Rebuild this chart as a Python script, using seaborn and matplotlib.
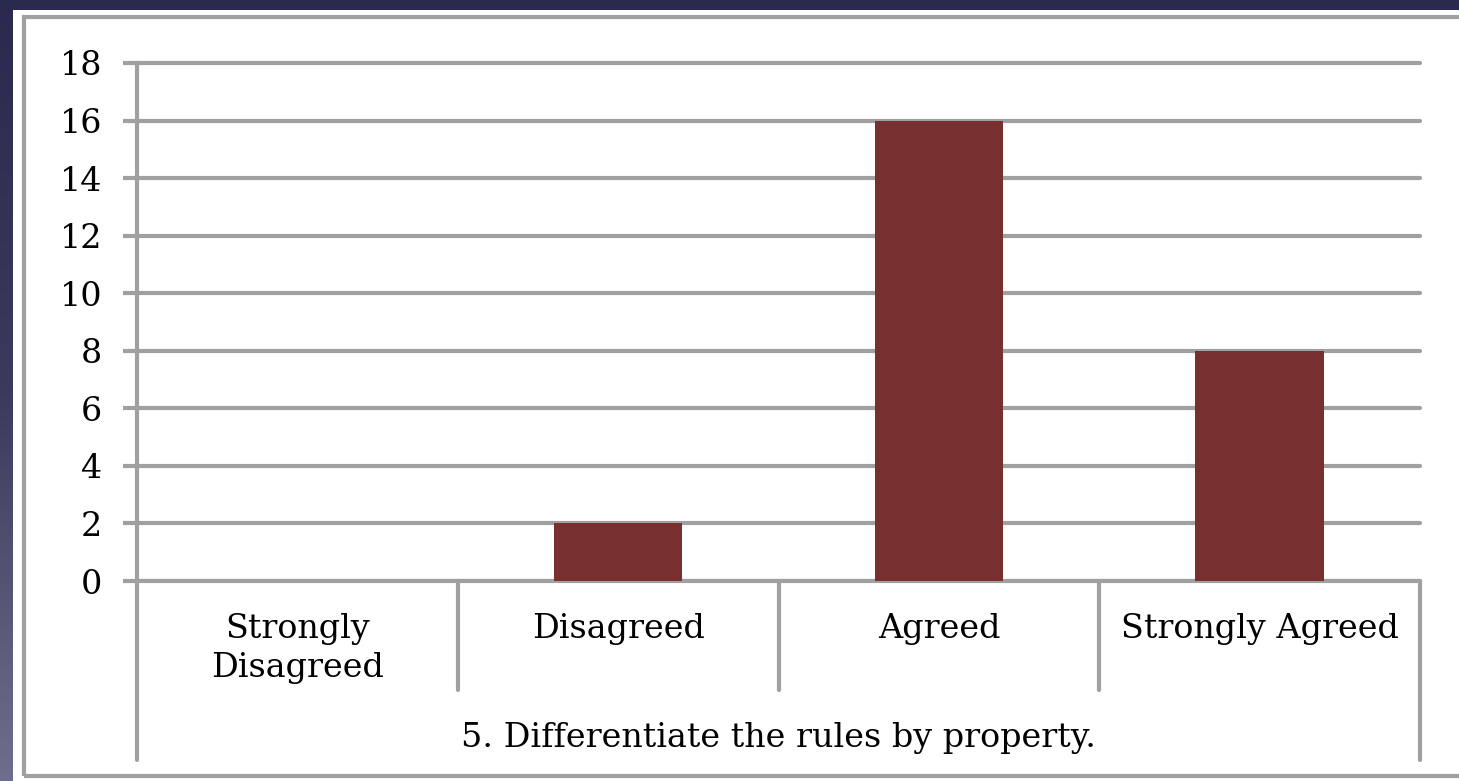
import numpy as np
import pandas as pd
import seaborn as sns
import matplotlib.pyplot as plt
from matplotlib.patches import Rectangle
from matplotlib.colors import LinearSegmentedColormap

# Data
categories = ['Strongly\nDisagreed', 'Disagreed', 'Agreed', 'Strongly Agreed']
responses = [0, 2, 16, 8]
question = '5. Differentiate the rules by property.'
y_ticks = [0, 2, 4, 6, 8, 10, 12, 14, 16, 18]

df = pd.DataFrame({'category': categories, 'count': responses})

sns.set_theme(style='white')
plt.rcParams['font.family'] = ['DejaVu Serif']

W, H = 1459, 781
fig = plt.figure(figsize=(W / 100, H / 100), dpi=100)

# Slide background gradient
bg = fig.add_axes([0, 0, 1, 1], zorder=-10)
grad = np.linspace(0, 1, 256).reshape(-1, 1)
cmap = LinearSegmentedColormap.from_list('bg', ['#2a2a4e', '#3a3a5c', '#6f6e8c'])
bg.imshow(grad, aspect='auto', cmap=cmap, extent=[0, 1, 0, 1], origin='upper')
bg.axis('off')

# White panel with grey border
fig.patches.append(Rectangle((13 / W, 0), 1, 1 - 10 / H, transform=fig.transFigure,
                             facecolor='white', edgecolor='none', zorder=-5))
fig.patches.append(Rectangle((23.5 / W, 1 - 776 / H), 1, (776 - 17) / H, transform=fig.transFigure,
                             facecolor='none', edgecolor='#a0a0a0', linewidth=3, zorder=-4))

ax = fig.add_axes([137 / W, 1 - 581 / H, (1420 - 137) / W, (581 - 63) / H])
ax.set_facecolor('none')

sns.barplot(data=df, x='category', y='count', color='#772f2f', width=0.4,
            saturation=1, linewidth=0, ax=ax, zorder=3)

ax.set_ylim(0, 18)
ax.set_xlim(-0.5, len(categories) - 0.5)
ax.set_yticks(y_ticks)
ax.yaxis.grid(True, color='#a0a0a0', linewidth=3, zorder=0)
for gl in ax.yaxis.get_gridlines():
    gl.set_clip_on(False)
ax.set_axisbelow(True)
for s in ['top', 'right', 'bottom']:
    ax.spines[s].set_visible(False)
ax.spines['left'].set_color('#a0a0a0')
ax.spines['left'].set_linewidth(3)

ax.tick_params(axis='y', length=10, width=3, color='#a0a0a0', pad=15, labelsize=24, labelcolor='black', left=True)
ax.tick_params(axis='x', length=0, pad=23, labelsize=24, labelcolor='black')
for lab in ax.get_xticklabels():
    lab.set_multialignment('center')
    lab.set_verticalalignment('top')
    lab.set_linespacing(1.3)

# Category separator lines below the axis
n = len(categories)
for i in range(n + 1):
    bottom = -0.345 if i in (0, n) else -0.21
    ax.plot([i - 0.5, i - 0.5], [0, bottom], transform=ax.get_xaxis_transform(),
            color='#a0a0a0', linewidth=3, clip_on=False, zorder=2)
ax.axhline(0, color='#a0a0a0', linewidth=3, zorder=2)

ax.set_ylabel('')
ax.set_xlabel(question, fontsize=24, color='black')
ax.xaxis.set_label_coords(0.5, -0.303)
ax.xaxis.label.set_verticalalignment('center')

fig.savefig('out.png', dpi=100)
